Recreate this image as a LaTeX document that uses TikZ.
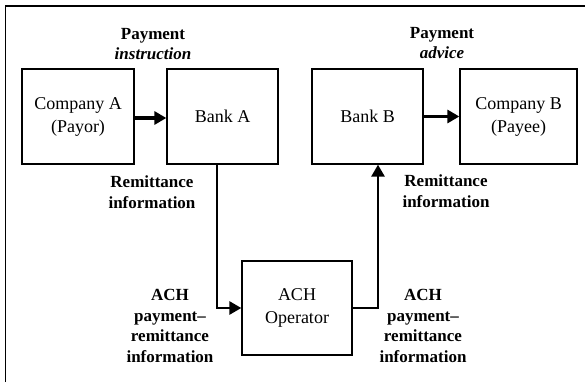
\documentclass[tikz,border=0pt]{standalone}
\usepackage{fontspec}
\setmainfont{Liberation Serif}
\usetikzlibrary{arrows.meta}
\begin{document}
\begin{tikzpicture}[x=1pt,y=-1pt,
  box/.style={draw,line width=1.3pt,minimum width=#1,minimum height=95pt,inner sep=0pt,align=center,
    font=\fontsize{18}{23}\selectfont},
  lbl/.style={align=center,font=\fontsize{17}{20.5}\selectfont\bfseries,inner sep=0pt},
  flow/.style={line width=3.5pt,-{Triangle[length=12pt,width=13pt]}},
  elbow/.style={line width=2.7pt,-{Triangle[length=12pt,width=13pt]}}]
\useasboundingbox (0,0) rectangle (585,382);
\draw[line width=1.5pt] (5.5,382) -- (5.5,6) -- (585,6);
\node[box=112pt] (compA) at (78,116.5) {Company A\\(Payor)};
\node[box=111pt] (bankA) at (222.5,116.5) {Bank A};
\node[box=111pt] (bankB) at (367.5,116.5) {Bank B};
\node[box=117pt] (compB) at (518.5,116.5) {Company B\\(Payee)};
\node[box=110pt,minimum height=94pt] (ach) at (297,308) {ACH\\Operator};
\draw[flow] (compA.east |- 0,118) -- (bankA.west |- 0,118);
\draw[flow] (bankB) -- (compB);
\draw[elbow] ([xshift=-5.5pt]bankA.south) |- (ach.west);
\draw[elbow] (ach.east) -| ([xshift=10.5pt]bankB.south);
\node[lbl] (l1) at (153,44) {Payment\\\itshape instruction};
\node[lbl] (l2) at (442,43) {Payment\\\itshape advice};
\node[lbl] (l3) at (152,192) {Remittance\\information};
\node[lbl] (l4) at (446,191) {Remittance\\information};
\node[lbl] (l5) at (170,326) {ACH\\payment--\\remittance\\information};
\node[lbl] (l6) at (423,326) {ACH\\payment--\\remittance\\information};
\end{tikzpicture}
\end{document}
